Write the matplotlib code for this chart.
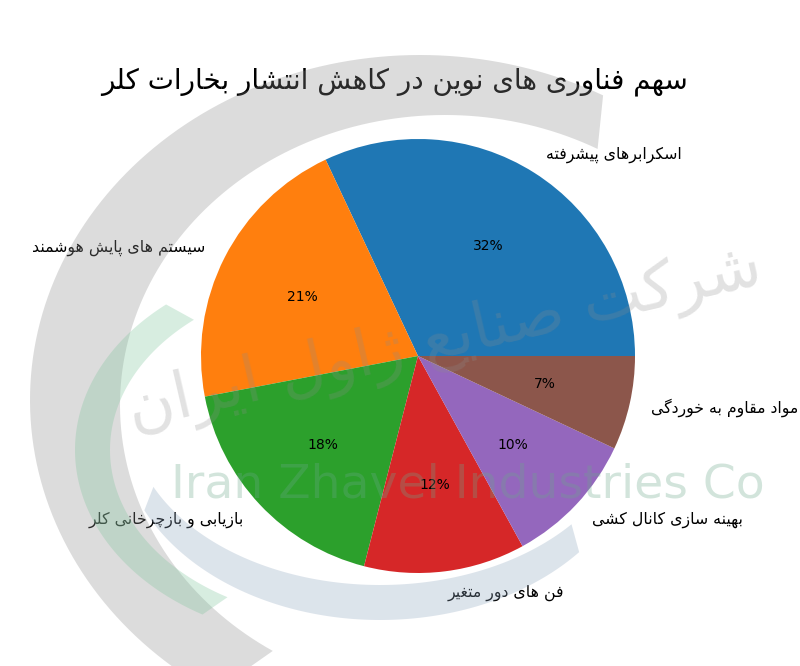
import numpy as np
import matplotlib
matplotlib.use("Agg")
from matplotlib import pyplot as plt
from matplotlib.patches import Polygon

# Chart data
labels = [
    "اسکرابرهای پیشرفته",
    "سیستم های پایش هوشمند",
    "بازیابی و بازچرخانی کلر",
    "فن های دور متغیر",
    "بهینه سازی کانال کشی",
    "مواد مقاوم به خوردگی",
]
shares = [32, 21, 18, 12, 10, 7]
title = "سهم فناوری های نوین در کاهش انتشار بخارات کلر"

# Watermark texts
wm_en = "Iran Zhavel Industries Co"
wm_fa = "شرکت صنایع ژاول ایران"


# matplotlib does no Arabic shaping, so pick presentation forms by hand
# (isolated, final, initial, medial)
FORMS = {
    'ا': (0xFE8D, 0xFE8E, None, None),
    'آ': (0xFE81, 0xFE82, None, None),
    'ب': (0xFE8F, 0xFE90, 0xFE91, 0xFE92),
    'پ': (0xFB56, 0xFB57, 0xFB58, 0xFB59),
    'ت': (0xFE95, 0xFE96, 0xFE97, 0xFE98),
    'ج': (0xFE9D, 0xFE9E, 0xFE9F, 0xFEA0),
    'چ': (0xFB7A, 0xFB7B, 0xFB7C, 0xFB7D),
    'ح': (0xFEA1, 0xFEA2, 0xFEA3, 0xFEA4),
    'خ': (0xFEA5, 0xFEA6, 0xFEA7, 0xFEA8),
    'د': (0xFEA9, 0xFEAA, None, None),
    'ر': (0xFEAD, 0xFEAE, None, None),
    'ز': (0xFEAF, 0xFEB0, None, None),
    'ژ': (0xFB8A, 0xFB8B, None, None),
    'س': (0xFEB1, 0xFEB2, 0xFEB3, 0xFEB4),
    'ش': (0xFEB5, 0xFEB6, 0xFEB7, 0xFEB8),
    'ص': (0xFEB9, 0xFEBA, 0xFEBB, 0xFEBC),
    'ع': (0xFEC9, 0xFECA, 0xFECB, 0xFECC),
    'غ': (0xFECD, 0xFECE, 0xFECF, 0xFED0),
    'ف': (0xFED1, 0xFED2, 0xFED3, 0xFED4),
    'ق': (0xFED5, 0xFED6, 0xFED7, 0xFED8),
    'ک': (0xFB8E, 0xFB8F, 0xFB90, 0xFB91),
    'گ': (0xFB92, 0xFB93, 0xFB94, 0xFB95),
    'ل': (0xFEDD, 0xFEDE, 0xFEDF, 0xFEE0),
    'م': (0xFEE1, 0xFEE2, 0xFEE3, 0xFEE4),
    'ن': (0xFEE5, 0xFEE6, 0xFEE7, 0xFEE8),
    'ه': (0xFEE9, 0xFEEA, 0xFEEB, 0xFEEC),
    'و': (0xFEED, 0xFEEE, None, None),
    'ی': (0xFBFC, 0xFBFD, 0xFBFE, 0xFBFF),
}


def shape(text):
    out = []
    i = 0
    n = len(text)
    while i < n:
        c = text[i]
        if c not in FORMS:
            out.append(c)
            i += 1
            continue
        prev = text[i - 1] if i > 0 else ''
        joins_prev = prev in FORMS and FORMS[prev][2] is not None
        # lam + alef ligature
        if c == 'ل' and i + 1 < n and text[i + 1] == 'ا':
            out.append(chr(0xFEFC if joins_prev else 0xFEFB))
            i += 2
            continue
        nxt = text[i + 1] if i + 1 < n else ''
        joins_next = FORMS[c][2] is not None and nxt in FORMS
        iso, fin, ini, med = FORMS[c]
        if joins_prev and joins_next:
            out.append(chr(med))
        elif joins_prev:
            out.append(chr(fin))
        elif joins_next:
            out.append(chr(ini))
        else:
            out.append(chr(iso))
        i += 1
    # right-to-left
    return ''.join(out)[::-1]


plt.rcParams['font.family'] = ['DejaVu Sans']

W, H = 800, 666
fig = plt.figure(figsize=(W / 100, H / 100), dpi=100)

# pie axes: centre (418, 356) px, radius 217 px
r = 217
cx, cy = 418, 356
side = 2.5 * r
ax = fig.add_axes([(cx - side / 2) / W, 1 - (cy + side / 2) / H, side / W, side / H])
wedges, texts, pcts = ax.pie(shares, labels=[shape(l) for l in labels], autopct='%1.0f%%',
                             textprops={'fontsize': 10})
ax.set_aspect('equal')
for t in texts:
    t.set_fontsize(11.3)

fig.text(394 / W, 1 - 82 / H, shape(title), ha='center', va='center', fontsize=20)

# faint company watermark drawn over everything
wm = fig.add_axes([0, 0, 1, 1], zorder=5)
wm.set_xlim(0, W)
wm.set_ylim(H, 0)
wm.axis('off')
wm.patch.set_alpha(0)


def crescent(c1, r1, c2, r2, t0, t1, color, alpha):
    t = np.radians(np.linspace(t0, t1, 120))
    outer = np.column_stack([c1[0] + r1[0] * np.cos(t), c1[1] - r1[1] * np.sin(t)])
    inner = np.column_stack([c2[0] + r2[0] * np.cos(t[::-1]), c2[1] - r2[1] * np.sin(t[::-1])])
    wm.add_patch(Polygon(np.vstack([outer, inner]), closed=True, facecolor=color,
                         edgecolor='none', alpha=alpha))


crescent((420, 400), (390, 345), (445, 405), (325, 290), 62, 238, '#8c8c8c', 0.3)
crescent((330, 450), (255, 190), (345, 450), (235, 170), 130, 240, '#7cc49a', 0.3)
crescent((380, 430), (260, 190), (380, 415), (250, 170), 205, 320, '#8ea6bf', 0.3)

wm.text(468, 485, wm_en, ha='center', va='center', fontsize=34,
        color='#6aa88a', alpha=0.3)
wm.text(445, 340, shape(wm_fa), ha='center', va='center', fontsize=46,
        rotation=13, color='#8c8c8c', alpha=0.25)

fig.savefig('out.png', dpi=100)
